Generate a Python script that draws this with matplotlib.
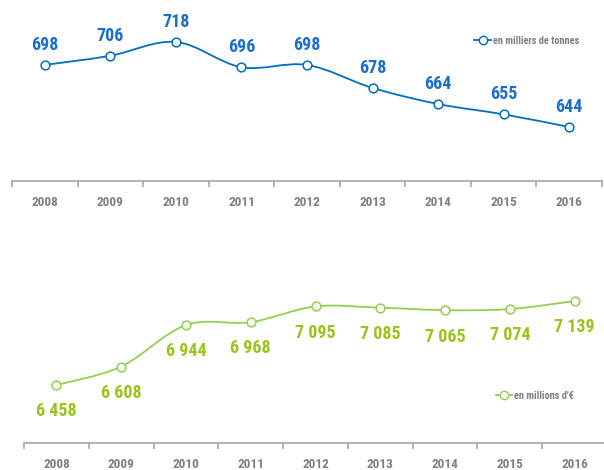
import matplotlib
matplotlib.use("Agg")
import matplotlib.pyplot as plt
from matplotlib.path import Path
from matplotlib.patches import PathPatch
from matplotlib.lines import Line2D

fonts = ['Liberation Sans Narrow', 'Roboto Condensed', 'Lato', 'DejaVu Sans']
plt.rcParams['font.family'] = fonts

years = ['2008', '2009', '2010', '2011', '2012', '2013', '2014', '2015', '2016']
tonnes = [698, 706, 718, 696, 698, 678, 664, 655, 644]
euros = [6458, 6608, 6944, 6968, 7095, 7085, 7065, 7074, 7139]
euro_labels = ['6 458', '6 608', '6 944', '6 968', '7 095', '7 085', '7 065', '7 074', '7 139']

blue = '#0070C0'
blue_txt = '#1A6FCC'
green = '#92D050'
green_txt = '#99C51A'
grey = '#808080'


def smooth_path(xs, ys):
    # excel-style smoothed line: catmull-rom segments as cubic beziers
    pts = list(zip(xs, ys))
    n = len(pts)
    verts = [pts[0]]
    codes = [Path.MOVETO]
    for i in range(n - 1):
        p0 = pts[max(i - 1, 0)]
        p1 = pts[i]
        p2 = pts[i + 1]
        p3 = pts[min(i + 2, n - 1)]
        c1 = (p1[0] + (p2[0] - p0[0]) / 6, p1[1] + (p2[1] - p0[1]) / 6)
        c2 = (p2[0] - (p3[0] - p1[0]) / 6, p2[1] - (p3[1] - p1[1]) / 6)
        verts += [c1, c2, p2]
        codes += [Path.CURVE4] * 3
    return Path(verts, codes)


def style_axis(ax):
    for s in ['top', 'right', 'left']:
        ax.spines[s].set_visible(False)
    ax.spines['bottom'].set_color('#A6A6A6')
    ax.spines['bottom'].set_linewidth(1.2)
    ax.set_yticks([])
    ax.set_xlim(-0.5, 8.5)
    ax.set_xticks(range(len(years)))
    ax.set_xticklabels(years, fontsize=9.5, fontweight='bold', color=grey)
    ax.tick_params(axis='x', length=0, pad=11)
    ax.set_xticks([i - 0.5 for i in range(len(years) + 1)], minor=True)
    ax.tick_params(axis='x', which='minor', length=4, width=1.2, color='#A6A6A6')
    ax.patch.set_visible(False)


fig = plt.figure(figsize=(6.04, 4.70), dpi=100)
x = list(range(len(years)))
leg_prop = {'size': 7.5, 'family': fonts, 'weight': 'bold'}

# top panel: tonnes
ax1 = fig.add_axes([12 / 604, 289 / 470, 590 / 604, 181 / 470])
style_axis(ax1)
ax1.set_ylim(597, 754.5)
ax1.add_patch(PathPatch(smooth_path(x, tonnes), fill=False, edgecolor=blue, lw=1.3))
ax1.plot(x, tonnes, 'o', ms=6.3, mfc='white', mec=blue, mew=1.1, ls='none')
for xi, v in zip(x, tonnes):
    ax1.annotate(str(v), (xi, v), xytext=(0, 8), textcoords='offset points',
                 ha='center', va='bottom', fontsize=13, fontweight='bold', color=blue_txt)
h1 = Line2D([], [], color=blue, lw=1.3, marker='o', ms=6, mfc='white', mec=blue)
ax1.legend([h1], ['en milliers de tonnes'], loc='center left', bbox_to_anchor=(0.775, 0.775),
           frameon=False, handlelength=1.6, handletextpad=0.2, borderpad=0,
           prop=leg_prop, labelcolor=grey)

# bottom panel: euros
ax2 = fig.add_axes([24 / 604, 27 / 470, 583 / 604, 213 / 470])
style_axis(ax2)
ax2.set_ylim(5988, 7715)
ax2.add_patch(PathPatch(smooth_path(x, euros), fill=False, edgecolor=green, lw=1.3))
ax2.plot(x, euros, 'o', ms=6.3, mfc='white', mec=green, mew=1.1, ls='none')
for xi, v, lab in zip(x, euros, euro_labels):
    ax2.annotate(lab, (xi, v), xytext=(0, -12.5), textcoords='offset points',
                 ha='center', va='top', fontsize=13, fontweight='bold', color=green_txt)
h2 = Line2D([], [], color=green, lw=1.3, marker='o', ms=6, mfc='white', mec=green)
ax2.legend([h2], ["en millions d'€"], loc='center left', bbox_to_anchor=(0.8, 0.22),
           frameon=False, handlelength=1.6, handletextpad=0.2, borderpad=0,
           prop=leg_prop, labelcolor=grey)

fig.savefig('out.png', dpi=100)
